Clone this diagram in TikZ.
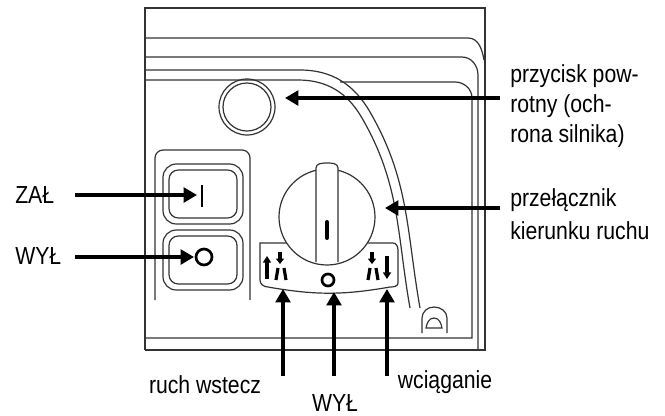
\documentclass[tikz,border=0pt]{standalone}
\usepackage{fontspec}
\setmainfont{Liberation Sans}[FakeStretch=0.86]
\usetikzlibrary{arrows.meta}
\begin{document}
\begin{tikzpicture}[x=0.75pt,y=-0.75pt,
  thin line/.style={line width=0.9pt,draw=black!80},
  ptr/.style={line width=3pt,-{Triangle[length=10pt,width=11pt]}},
  lbl/.style={font=\fontsize{18.5}{21}\selectfont,inner sep=0pt},
  sym/.style={line width=2.4pt}]
\useasboundingbox (0,0) rectangle (665,415);
% housing
\draw[thin line] (145,350) -- (145,8) -- (485,8) -- (485,350) -- (145,350);
\draw[thin line] (145,38) -- (468,38) to[out=0,in=100] (484,60);
\draw[thin line] (145,57) -- (462,57) to[out=0,in=90] (478,75) -- (478,350);
\draw[thin line] (340,82) -- (455,82) to[out=0,in=90] (472,98) -- (472,338) -- (145,338);
\draw[thin line] (145,70) -- (300,70) to[out=0,in=120] (370,112) to[out=-60,in=100] (420,308);
\draw[thin line] (145,80) -- (298,80) to[out=0,in=120] (362,118) to[out=-60,in=100] (410,308);
% bump
\draw[thin line] (422,333) -- (422,318) to[out=90,in=180] (434,307) to[out=0,in=90] (447,318) -- (447,333);
\draw[thin line] (426,328) to[out=80,in=180] (434,318) to[out=0,in=100] (442,328) -- cycle;
% round button
\node[circle,draw=black!80,line width=0.9pt,minimum size=42pt,inner sep=0pt] (btn) at (247,107) {};
\draw[thin line] (247,107) circle (24);
% switch panel
\draw[thin line,rounded corners=6pt] (155,300) -- (155,150) -- (250,150) -- (250,300);
\draw[thin line,rounded corners=10pt] (163,164) rectangle (243,224);
\draw[thin line,rounded corners=7pt] (169,170) rectangle (237,218);
\draw[thin line,rounded corners=10pt] (163,230) rectangle (243,290);
\draw[thin line,rounded corners=7pt] (169,236) rectangle (237,284);
\node[inner sep=0pt] (zal) at (202,196) {};
\draw[line width=2.2pt] (202,185) -- (202,207);
\node[circle,draw,line width=2pt,minimum size=12pt,inner sep=0pt] (wylb) at (204,257) {};
% knob
\draw[thin line] (260,243) -- (393,243) to[out=0,in=90] (398,250) -- (398,283) to[out=-90,in=0] (390,287)
  to[out=190,in=-10] (268,287) to[out=180,in=-90] (260,280) -- cycle;
\node[circle,draw=black!80,fill=white,line width=0.9pt,minimum size=72pt,inner sep=0pt] (knob) at (327,217) {};
\draw[thin line,fill=white] (316,262) -- (316,168) to[out=90,in=180] (327,163) to[out=0,in=90] (338,168) -- (338,262);
\draw[line width=3pt,line cap=round] (327,222) -- (327,238);
% scale symbols
\draw[sym,-{Triangle[length=5pt,width=6pt]}] (267,279) -- (267,256);
\draw[sym] (276,280) -- (278,268) (286,280) -- (284,268);
\draw[sym,-{Triangle[length=4pt,width=6pt]}] (280,252) -- (280,264);
\node[circle,draw,line width=2pt,minimum size=9pt,inner sep=0pt] (off) at (328,280) {};
\draw[sym] (368,280) -- (370,268) (378,280) -- (376,268);
\draw[sym,-{Triangle[length=4pt,width=6pt]}] (372,252) -- (372,264);
\draw[sym,-{Triangle[length=5pt,width=6pt]}] (387,256) -- (387,279);
% labels
\node[lbl,anchor=west] (t1) at (510,76) {przycisk pow-};
\node[lbl,anchor=west] (t2) at (510,106) {rotny (och-};
\node[lbl,anchor=west] (t3) at (510,136) {rona silnika)};
\node[lbl,anchor=west] (t4) at (510,200) {przełącznik};
\node[lbl,anchor=west] (t5) at (510,231) {kierunku ruchu};
\node[lbl,anchor=west] (zl) at (15,195) {ZAŁ};
\node[lbl,anchor=west] (wl) at (15,256) {WYŁ};
\node[lbl] (rw) at (205,385) {ruch wstecz};
\node[lbl] (wb) at (335,403) {WYŁ};
\node[lbl] (wc) at (445,382) {wciąganie};
% arrows
\coordinate (a1) at (500,98); \coordinate (a1e) at (285,98);
\draw[ptr] (a1) -- (a1e);
\coordinate (a2) at (500,208); \coordinate (a2e) at (385,208);
\draw[ptr] (a2) -- (a2e);
\coordinate (a3) at (75,195); \coordinate (a3e) at (197,195);
\draw[ptr] (a3) -- (a3e);
\coordinate (a4) at (75,257); \coordinate (a4e) at (194,257);
\draw[ptr] (a4) -- (a4e);
\coordinate (b1) at (283,376); \coordinate (b1e) at (283,289);
\draw[ptr] (b1) -- (b1e);
\coordinate (b2) at (334,376); \coordinate (b2e) at (334,292);
\draw[ptr] (b2) -- (b2e);
\coordinate (b3) at (387,376); \coordinate (b3e) at (387,289);
\draw[ptr] (b3) -- (b3e);
\end{tikzpicture}
\end{document}
